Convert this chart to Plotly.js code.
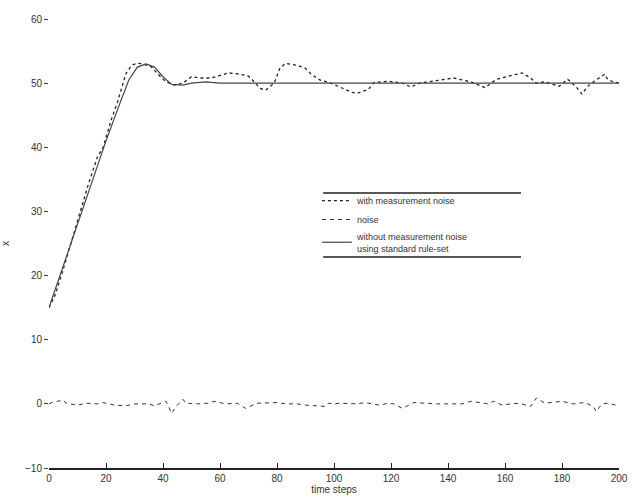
<!DOCTYPE html>
<html>
<head>
<meta charset="utf-8">
<script src="https://cdn.plot.ly/plotly-3.0.1.min.js"></script>
<style>html,body{margin:0;padding:0;background:#fff;}#chart{width:632px;height:502px;}</style>
</head>
<body>
<div id="chart"></div>
<script>
// with measurement noise
const noisyX = [0,2,5,8,11,14,17,19,22,24,27,29,31,33,36,38,41,44,47,50,53,57,60,63,67,70,72,74,76,79,81,83,87,90,92,95,99,103,106,108,112,114,119,124,127,130,135,139,142,148,153,157,162,166,169,171,174,179,182,185,187,189,192,195,196,198,200];
const noisyY = [15,16.8,21,25.5,30,34.5,38.5,40,44.5,47,51.5,52.8,53.1,53,52.5,51.5,50.2,49.7,50,51,50.8,50.8,51.2,51.6,51.4,51.1,50.2,49.2,48.9,50,52.3,53.1,52.8,52.3,51.4,50.5,50,49.2,48.6,48.4,49,50.1,50.3,50,49.4,50,50.3,50.6,50.8,50.2,49.3,50.6,51.1,51.6,50.8,50,50.2,49.5,50.6,49.4,48.3,49.5,50.5,51.4,50.6,50.2,50];
// noise
const noiseX = [0,1,3,5,6,10,13,15,17,19,23,27,30,35,37,41,42,43,45,47,48,52,56,58,62,66,69,73,77,80,83,87,90,97,98,100,102,108,111,116,119,121,124,128,132,134,136,140,145,148,154,156,159,162,165,169,171,174,177,180,184,188,191,192,194,196,199,200];
const noiseY = [0,0.2,0.4,0.6,0.1,-0.2,0.1,0.1,0,0.2,-0.2,-0.3,0,0,-0.3,0.4,-0.4,-1.5,-0.2,0.7,0.1,0,0.1,0.4,0,0.1,-0.7,0.1,0.1,0.2,0,0,-0.2,-0.4,0.1,0,0.1,0,0.2,-0.2,0.1,0,-0.7,0.2,0.1,0,0,0,0,0.4,0,0.4,-0.2,0,0.1,-0.4,0.9,0.1,0.2,0.4,0,0.2,-0.4,-1.2,0,0.1,-0.2,0];
// without measurement noise using standard rule-set
const cleanX = [0,5,10,15,20,25,28,31,34,37,40,43,47,50,55,60,80,100,120,140,160,180,200];
const cleanY = [15,21.5,28,34.5,41,47,50.5,52.5,53,52.5,51,49.8,49.7,50,50.2,50,50,50,50,50,50,50,50];

const xTicks = [0,20,40,60,80,100,120,140,160,180,200];
const yTicks = [-10,0,10,20,30,40,50,60];

const traces = [
  {x: noisyX, y: noisyY, mode: 'lines', name: 'with measurement noise',
   line: {color: '#222', width: 1.3, dash: 'dot'}},
  {x: noiseX, y: noiseY, mode: 'lines', name: 'noise',
   line: {color: '#333', width: 1, dash: '4px,4px'}},
  {x: cleanX, y: cleanY, mode: 'lines', name: 'without measurement noise<br>using standard rule-set',
   line: {color: '#444', width: 1.2}}
];

const layout = {
  width: 632, height: 502,
  margin: {l: 49, r: 13, t: 19, b: 34},
  paper_bgcolor: '#fff', plot_bgcolor: '#fff',
  font: {family: 'Liberation Sans, Arial, sans-serif', size: 10, color: '#333'},
  showlegend: true,
  legend: {x: 0.47, y: 0.628, xanchor: 'left', yanchor: 'top', bgcolor: 'rgba(0,0,0,0)',
           borderwidth: 0, font: {size: 9, color: '#333'}, tracegroupgap: 0, itemwidth: 30},
  xaxis: {range: [0, 200], tickvals: xTicks, ticks: 'inside', ticklen: 5, tickcolor: '#222',
          showline: true, linecolor: '#222', linewidth: 1.5, showgrid: false, zeroline: false,
          title: {text: 'time steps', standoff: 2, font: {size: 10}}},
  yaxis: {range: [-10, 60], tickvals: yTicks, ticks: 'outside', ticklen: 4, tickcolor: '#444',
          showline: false, showgrid: false, zeroline: false,
          title: {text: 'x', standoff: 18, font: {size: 10}}},
  shapes: [
    {type: 'line', xref: 'paper', yref: 'paper', x0: 0.481, x1: 0.828, y0: 0.6125, y1: 0.6125, line: {color: '#222', width: 1.5}},
    {type: 'line', xref: 'paper', yref: 'paper', x0: 0.481, x1: 0.828, y0: 0.47, y1: 0.47, line: {color: '#222', width: 1.5}}
  ]
};

Plotly.newPlot('chart', traces, layout, {displayModeBar: false, staticPlot: true});
</script>
</body>
</html>
